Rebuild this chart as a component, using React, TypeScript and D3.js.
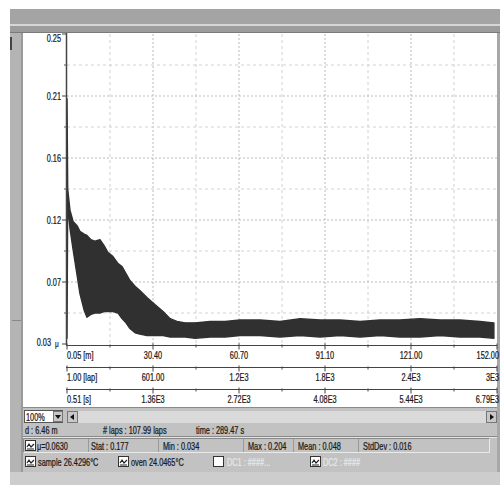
import React from "react";
import * as d3 from "d3";

// ---- data ----
const distance = [0.05, 0.3, 1.1, 2.2, 3.6, 4.6, 6.1, 7.1, 8.5, 9.9, 11.7, 13.1, 14.5, 16.3, 18.1, 19.5, 20.9, 22.3, 24.1, 25.8, 28.3, 31.1, 34.0, 36.5, 38.9, 41.8, 45.3, 50.6, 55.9, 61.2, 68.3, 75.3, 82.4, 89.5, 96.5, 103.6, 110.7, 117.7, 124.8, 131.9, 138.9, 146.0, 150.9];
const upper = [0.204, 0.140, 0.125, 0.117, 0.114, 0.110, 0.108, 0.107, 0.104, 0.103, 0.104, 0.100, 0.095, 0.092, 0.087, 0.085, 0.080, 0.075, 0.071, 0.068, 0.063, 0.058, 0.053, 0.048, 0.046, 0.045, 0.045, 0.046, 0.046, 0.047, 0.047, 0.046, 0.048, 0.047, 0.047, 0.046, 0.047, 0.047, 0.048, 0.047, 0.047, 0.046, 0.045];
const lower = [0.034, 0.130, 0.112, 0.097, 0.079, 0.066, 0.054, 0.049, 0.051, 0.052, 0.052, 0.053, 0.053, 0.053, 0.052, 0.048, 0.045, 0.041, 0.038, 0.037, 0.036, 0.036, 0.036, 0.035, 0.035, 0.035, 0.034, 0.035, 0.035, 0.036, 0.036, 0.035, 0.036, 0.035, 0.036, 0.035, 0.036, 0.035, 0.035, 0.036, 0.035, 0.035, 0.034];

const yTickValues = [0.03, 0.074, 0.118, 0.162, 0.206, 0.25];
const yTickLabels = ["0.03", "0.07", "0.12", "0.16", "0.21", "0.25"];
const yUnit = "\u03bc";
const distLabels = ["0.05 [m]", "30.40", "60.70", "91.10", "121.00", "152.00"];
const lapLabels = ["1.00 [lap]", "601.00", "1.2E3", "1.8E3", "2.4E3", "3E3"];
const timeLabels = ["0.51 [s]", "1.36E3", "2.72E3", "4.08E3", "5.44E3", "6.79E3"];
const statusRow = [
  { x: 25, t: "d : 6.46 m" },
  { x: 103, t: "# laps : 107.99 laps" },
  { x: 196, t: "time : 289.47 s" },
];
const statsRow = [
  { x: 37, t: "\u03bc=0.0630" },
  { x: 91, t: "Stat : 0.177" },
  { x: 163, t: "Min : 0.034" },
  { x: 248, t: "Max : 0.204" },
  { x: 298, t: "Mean : 0.048" },
  { x: 363, t: "StdDev : 0.016" },
];
const channelRow = [
  { x: 38, t: "sample 26.4296\u00b0C", icon: 25, grey: false, box: false },
  { x: 131, t: "oven 24.0465\u00b0C", icon: 118, grey: false, box: false },
  { x: 227, t: "DC1 : ####...", icon: 213, grey: true, box: true },
  { x: 323, t: "DC2 : ####", icon: 310, grey: true, box: false },
];

const FONT = "'Liberation Sans', Arial, sans-serif";
const SX = 0.72;

function T({ x, y, children, anchor = "start", size = 10.2, fill = "#1a1a1a" }: any) {
  return (
    <text
      transform={`translate(${x},${y}) scale(${SX},1)`}
      fontSize={size}
      textAnchor={anchor}
      fill={fill}
      stroke={fill}
      strokeWidth={0.25}
    >
      {children}
    </text>
  );
}

function Icon({ x, y, box }: { x: number; y: number; box?: boolean }) {
  return (
    <g>
      <rect x={x + 0.5} y={y + 0.5} width={10} height={10} fill="#fff" stroke="#333" />
      {!box && (
        <path
          d={`M${x + 2},${y + 7} L${x + 4},${y + 4} L${x + 6},${y + 7} L${x + 9},${y + 4}`}
          fill="none"
          stroke="#222"
          strokeWidth={1.2}
        />
      )}
      {!box && <line x1={x + 2} x2={x + 9} y1={y + 9} y2={y + 9} stroke="#222" />}
    </g>
  );
}

export default function App() {
  const L = 67, R = 497, T0 = 34, B = 344;
  const x = d3.scaleLinear().domain([0.05, 152]).range([L, R]);
  const y = d3.scaleLinear().domain([0.03, 0.25]).range([B, T0]);
  const idx = d3.scaleLinear().domain([0, 5]).range([L, R]);

  const pts = distance.map((d, i) => ({ d, u: upper[i], l: lower[i] }));
  const area = d3
    .area<{ d: number; u: number; l: number }>()
    .x((p) => x(p.d))
    .y0((p) => y(p.l))
    .y1((p) => y(p.u));

  const gridX = d3.range(1, 10).map((k) => idx(k / 2));
  const gridY = d3.range(1, 10).map((k) => y(0.03 + (0.22 * k) / 10));

  const axisRows = [
    { yy: 345.5, labels: distLabels, base: 359 },
    { yy: 367.5, labels: lapLabels, base: 381 },
    { yy: 389.5, labels: timeLabels, base: 403 },
  ];

  return (
    <div style={{ position: "absolute", left: 0, top: 0 }}>
      <svg width={500} height={485} style={{ display: "block", fontFamily: FONT }}>
        <rect width={500} height={485} fill="#fff" />
        {/* top bar */}
        <rect x={10} y={9} width={490} height={15} fill="#a4a4a4" />
        <rect x={10} y={24} width={490} height={2} fill="#d6d6d6" />
        <rect x={10} y={26} width={490} height={6} fill="#9c9c9c" />
        <rect x={10} y={32} width={490} height={1} fill="#7a7a7a" />
        {/* left strip */}
        <rect x={10} y={33} width={13} height={440} fill="#b4b4b4" />
        <rect x={21} y={33} width={2} height={440} fill="#9a9a9a" />
        <rect x={10} y={37} width={2} height={13} fill="#444" />
        <rect x={12} y={320} width={9} height={1} fill="#888" />
        {/* right edge */}
        <rect x={497} y={33} width={3} height={440} fill="#a8a8a8" />
        {/* panel lower area */}
        <rect x={23} y={407} width={474} height={66} fill="#c2c2c2" />
        <rect x={10} y={472} width={490} height={13} fill="#cdcdcd" />
        <rect x={23} y={407} width={474} height={1} fill="#8a8a8a" />

        {/* grid */}
        {gridX.map((gx, i) => (
          <line key={"gx" + i} x1={gx} x2={gx} y1={T0} y2={B} stroke={i % 2 ? "#bbb" : "#d2d2d2"} strokeDasharray={i % 2 ? "2,2" : "3,3"} />
        ))}
        {gridY.map((gy, i) => (
          <line key={"gy" + i} x1={L} x2={R} y1={gy} y2={gy} stroke={i % 2 ? "#bbb" : "#d2d2d2"} strokeDasharray={i % 2 ? "2,2" : "3,3"} />
        ))}

        {/* data band */}
        <path d={area(pts) || ""} fill="#303030" stroke="#303030" strokeWidth={1.4} strokeLinejoin="round" />

        {/* y axis */}
        <line x1={L - 0.5} x2={L - 0.5} y1={T0 - 1} y2={B + 1} stroke="#444" strokeWidth={1.5} />
        {yTickValues.map((v, i) => (
          <g key={"yt" + i}>
            <line x1={L - 5} x2={L} y1={y(v)} y2={y(v)} stroke="#444" />
            <T
              x={i === 0 ? 51 : L - 6}
              y={i === 5 ? y(v) + 8 : i === 0 ? y(v) + 2 : y(v) + 3.5}
              anchor="end"
            >
              {yTickLabels[i]}
            </T>
          </g>
        ))}
        {yTickValues.slice(0, 5).map((v, i) => (
          <line key={"ym" + i} x1={L - 3} x2={L} y1={y(v + 0.022)} y2={y(v + 0.022)} stroke="#555" />
        ))}
        <T x={55} y={B + 3} size={9}>{yUnit}</T>

        {/* x axis rows */}
        {axisRows.map((row, r) => (
          <g key={"row" + r}>
            <line x1={L - 1} x2={R} y1={row.yy} y2={row.yy} stroke="#444" />
            {d3.range(0, 11).map((k) => (
              <line
                key={k}
                x1={idx(k / 2)}
                x2={idx(k / 2)}
                y1={row.yy - (k % 2 ? 1 : 2)}
                y2={row.yy + (k % 2 ? 2 : 4)}
                stroke="#444"
              />
            ))}
            {row.labels.map((lab, i) => (
              <T
                key={i}
                x={i === 0 ? L : i === 5 ? 499 : idx(i)}
                y={row.base}
                anchor={i === 0 ? "start" : i === 5 ? "end" : "middle"}
              >
                {lab}
              </T>
            ))}
          </g>
        ))}

        {/* controls row */}
        <rect x={24.5} y={410.5} width={38} height={12} fill="#fff" stroke="#555" />
        <T x={26} y={420.5}>100%</T>
        <rect x={53.5} y={411.5} width={9} height={10} fill="#c8c8c8" stroke="#777" />
        <path d="M55,415 L61,415 L58,419 Z" fill="#111" />
        <rect x={67.5} y={411.5} width={10} height={11} fill="#c8c8c8" stroke="#777" />
        <path d="M74,414 L70,417 L74,420 Z" fill="#111" />
        <rect x={78} y={411} width={408} height={12} fill="#dadada" />
        <rect x={486.5} y={411.5} width={10} height={11} fill="#c8c8c8" stroke="#777" />
        <path d="M490,414 L494,417 L490,420 Z" fill="#111" />

        {/* status text */}
        {statusRow.map((s, i) => (
          <T key={"s" + i} x={s.x} y={433.5}>{s.t}</T>
        ))}
        <line x1={23} x2={497} y1={436.5} y2={436.5} stroke="#8a8a8a" />
        <line x1={23} x2={497} y1={437.5} y2={437.5} stroke="#e4e4e4" />

        {/* stats box */}
        <rect x={23.5} y={438.5} width={466} height={14} fill="none" stroke="#eaeaea" />
        <path d="M23.5,452.5 L23.5,438.5 L489.5,438.5" fill="none" stroke="#8a8a8a" />
        {[88, 158, 243, 293, 358].map((sx, i) => (
          <line key={"sep" + i} x1={sx + 0.5} x2={sx + 0.5} y1={439} y2={452} stroke="#9a9a9a" />
        ))}
        <Icon x={25} y={440} />
        {statsRow.map((s, i) => (
          <T key={"st" + i} x={s.x} y={449.5}>{s.t}</T>
        ))}

        {/* channel row */}
        {channelRow.map((c, i) => (
          <g key={"c" + i}>
            <Icon x={c.icon} y={456} box={c.box} />
            <T x={c.x} y={465.5} fill={c.grey ? "#e8e8e8" : "#1a1a1a"}>{c.t}</T>
          </g>
        ))}
      </svg>
    </div>
  );
}
